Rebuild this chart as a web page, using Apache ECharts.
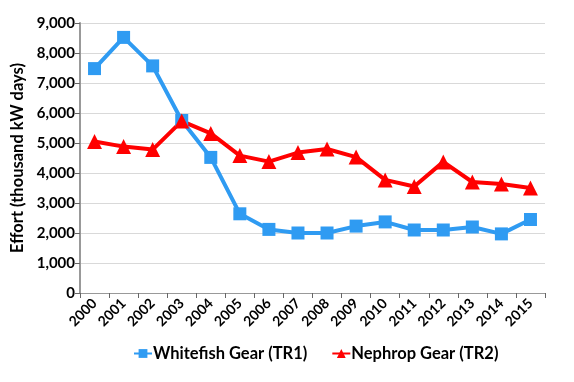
<!DOCTYPE html>
<html>
<head>
<meta charset="utf-8">
<script src="https://cdn.jsdelivr.net/npm/echarts@6/dist/echarts.min.js"></script>
<style>html,body{margin:0;padding:0;background:#fff}#c{width:574px;height:382px}</style>
</head>
<body>
<div id="c"></div>
<script>
var years = ['2000','2001','2002','2003','2004','2005','2006','2007','2008','2009','2010','2011','2012','2013','2014','2015'];
var whitefish = [7480, 8520, 7570, 5750, 4520, 2640, 2120, 2000, 2000, 2230, 2370, 2100, 2100, 2200, 1970, 2450];
var nephrop = [5050, 4880, 4780, 5730, 5320, 4580, 4380, 4680, 4800, 4530, 3770, 3550, 4370, 3700, 3630, 3500];
var yTicks = {min: 0, max: 9000, interval: 1000};
var FONT = 'Lato';
var chart = echarts.init(document.getElementById('c'));
chart.setOption({
  animation: false,
  grid: {left: 80, right: 29, top: 23, bottom: 89},
  legend: {
    bottom: 15, left: 128, itemGap: 24, itemWidth: 18, itemHeight: 11,
    textStyle: {fontFamily: FONT, fontWeight: 'bold', fontSize: 16.5, color: '#000', padding: [0,0,0,-4]},
    data: ['Whitefish Gear (TR1)', 'Nephrop Gear (TR2)']
  },
  xAxis: {
    type: 'category', data: years, boundaryGap: true,
    axisLine: {lineStyle: {color: '#999', width: 1}},
    axisTick: {show: true, length: 5, lineStyle: {color: '#666'}},
    axisLabel: {rotate: 45, fontFamily: FONT, fontWeight: 'bold', fontSize: 14, color: '#000', margin: 8}
  },
  yAxis: {
    type: 'value', min: yTicks.min, max: yTicks.max, interval: yTicks.interval,
    name: 'Effort (thousand kW days)', nameLocation: 'middle', nameGap: 54,
    nameTextStyle: {fontFamily: FONT, fontWeight: 'bold', fontSize: 16.5, color: '#000'},
    axisLine: {show: true, lineStyle: {color: '#999', width: 2}},
    axisTick: {show: true, length: 5, lineStyle: {color: '#666'}},
    splitLine: {lineStyle: {color: '#d9d9d9', width: 1}},
    axisLabel: {fontFamily: FONT, fontWeight: 'bold', fontSize: 15, color: '#000', margin: 5,
      formatter: function(v){return v.toLocaleString('en-US');}}
  },
  series: [
    {name: 'Whitefish Gear (TR1)', type: 'line', data: whitefish, symbol: 'rect', symbolSize: 13,
     lineStyle: {color: '#2f9bf2', width: 4}, itemStyle: {color: '#2f9bf2'}},
    {name: 'Nephrop Gear (TR2)', type: 'line', data: nephrop, symbol: 'triangle', symbolSize: 15,
     lineStyle: {color: '#ff0000', width: 4}, itemStyle: {color: '#ff0000'}}
  ]
});
</script>
</body>
</html>
